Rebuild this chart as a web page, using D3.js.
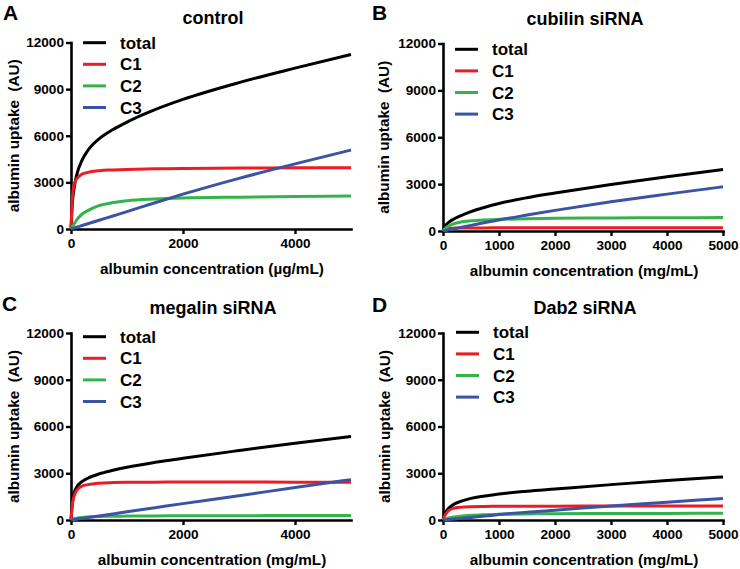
<!DOCTYPE html>
<html>
<head>
<meta charset="utf-8">
<script src="https://cdn.jsdelivr.net/npm/d3@7"></script>
<style>
  html, body { margin: 0; padding: 0; background: #fff; }
  svg text { font-family: "Liberation Sans", Arial, Helvetica, sans-serif; font-weight: bold; fill: #000; }
</style>
</head>
<body>
<svg id="chart" width="740" height="569"></svg>
<script>
// ---------------- DATA ----------------
const concentration = [0, 25, 50, 100, 200, 300, 500, 750, 1000, 1500, 2000, 3000, 4000, 5000];

const seriesNames = ["total", "C1", "C2", "C3"];
const panelTitles = ["control", "cubilin siRNA", "megalin siRNA", "Dab2 siRNA"];
const panelLetters = ["A", "B", "C", "D"];
const xAxisTitles = ["albumin concentration (\u00b5g/mL)", "albumin concentration (mg/mL)",
                     "albumin concentration (mg/mL)", "albumin concentration (mg/mL)"];
const yAxisTitle = "albumin uptake  (AU)";
const yTicks = [0, 3000, 6000, 9000, 12000];
const xTicksWide = [0, 2000, 4000];
const xTicksFine = [0, 1000, 2000, 3000, 4000, 5000];

// control
const controlTotal = [0, 1700, 2500, 3450, 4450, 5050, 5800, 6400, 6880, 7680, 8340, 9420, 10350, 11230];
const controlC1    = [0, 2000, 2790, 3215, 3536, 3643, 3750, 3800, 3836, 3870, 3900, 3920, 3935, 3943];
const controlC2    = [0, 150, 290, 580, 965, 1180, 1500, 1700, 1820, 1930, 1993, 2050, 2090, 2121];
const controlC3    = [0, 28, 56, 112, 224, 336, 560, 840, 1120, 1690, 2240, 3260, 4190, 5080];
// cubilin siRNA
const cubilinTotal = [0, 250, 380, 550, 780, 950, 1240, 1520, 1760, 2130, 2430, 2980, 3470, 3930];
const cubilinC1    = [0, 90, 130, 165, 185, 192, 198, 200, 202, 205, 207, 210, 213, 215];
const cubilinC2    = [0, 120, 200, 320, 470, 560, 650, 710, 745, 790, 815, 835, 848, 857];
const cubilinC3    = [0, 18, 36, 72, 144, 216, 360, 540, 710, 1020, 1320, 1870, 2360, 2830];
// megalin siRNA
const megalinTotal = [0, 1150, 1670, 2100, 2480, 2680, 2957, 3190, 3386, 3700, 3964, 4457, 4930, 5357];
const megalinC1    = [0, 1000, 1460, 1890, 2180, 2270, 2360, 2400, 2420, 2430, 2440, 2440, 2430, 2420];
const megalinC2    = [0, 50, 80, 120, 165, 190, 220, 238, 250, 262, 270, 278, 285, 290];
const megalinC3    = [0, 13, 26, 52, 104, 156, 260, 390, 530, 790, 1050, 1560, 2080, 2590];
// Dab2 siRNA
const dab2Total    = [0, 350, 520, 750, 1020, 1180, 1390, 1540, 1670, 1850, 1990, 2270, 2530, 2765];
const dab2C1       = [0, 230, 385, 600, 760, 810, 857, 872, 880, 886, 890, 894, 897, 900];
const dab2C2       = [0, 40, 75, 130, 190, 235, 300, 340, 365, 390, 407, 418, 425, 430];
const dab2C3       = [0, 8, 15, 30, 60, 90, 160, 250, 350, 500, 630, 900, 1140, 1380];

const panelSeries = [
  [controlTotal, controlC1, controlC2, controlC3],
  [cubilinTotal, cubilinC1, cubilinC2, cubilinC3],
  [megalinTotal, megalinC1, megalinC2, megalinC3],
  [dab2Total, dab2C1, dab2C2, dab2C3]
];

// ---------------- LAYOUT / STYLE ----------------
const colors = ["#000000", "#ec1c24", "#33b44a", "#3a53a4"];
const layout = [
  { x0: 71,  x1: 351, yTop: 42.5, yBot: 229, xticks: xTicksWide, leg: { x: 83,  y: 42.7 }, letter: { x: 3,   y: 20 },  yTitleX: 14 },
  { x0: 443, x1: 723, yTop: 43.5, yBot: 231, xticks: xTicksFine, leg: { x: 455, y: 49.3 }, letter: { x: 372, y: 20 },  yTitleX: 384 },
  { x0: 71,  x1: 351, yTop: 333,  yBot: 520, xticks: xTicksWide, leg: { x: 83,  y: 336.7 }, letter: { x: 2,  y: 311 }, yTitleX: 14 },
  { x0: 443, x1: 723, yTop: 333,  yBot: 520, xticks: xTicksFine, leg: { x: 456, y: 332.3 }, letter: { x: 372, y: 312 }, yTitleX: 385 }
];

const svg = d3.select("#chart");

layout.forEach((L, i) => {
  const g = svg.append("g");
  const x = d3.scaleLinear().domain([0, 5000]).range([L.x0, L.x1]);
  const y = d3.scaleLinear().domain([0, 12000]).range([L.yBot, L.yTop]);

  // axes
  const yAxis = g.append("g").attr("transform", `translate(${L.x0},0)`)
    .call(d3.axisLeft(y).tickValues(yTicks).tickFormat(d3.format("d")).tickSize(5).tickSizeOuter(0).tickPadding(2));
  const xAxis = g.append("g").attr("transform", `translate(0,${L.yBot})`)
    .call(d3.axisBottom(x).tickValues(L.xticks).tickFormat(d3.format("d")).tickSize(5).tickSizeOuter(0).tickPadding(4));
  [yAxis, xAxis].forEach(a => {
    a.select(".domain").attr("stroke", "#000").attr("stroke-width", 2.6).attr("stroke-linecap", "square");
    a.selectAll(".tick line").attr("stroke", "#000").attr("stroke-width", 2.4);
    a.selectAll(".tick text").style("font-size", "13.6px").style("font-family", "'Liberation Sans', Arial, sans-serif").style("font-weight", "bold").attr("fill", "#000");
  });

  // lines
  const line = d3.line().x((d, k) => x(concentration[k])).y(d => y(d)).curve(d3.curveMonotoneX);
  panelSeries[i].forEach((vals, s) => {
    g.append("path").datum(vals).attr("d", line)
      .attr("fill", "none").attr("stroke", colors[s]).attr("stroke-width", 3)
      .attr("stroke-linejoin", "round").attr("stroke-linecap", "butt");
  });

  // title
  g.append("text").attr("x", (L.x0 + L.x1) / 2 + 2).attr("y", L.yTop - 19)
    .attr("text-anchor", "middle").style("font-size", "18px").text(panelTitles[i]);
  // panel letter
  g.append("text").attr("x", L.letter.x).attr("y", L.letter.y).style("font-size", "21px").text(panelLetters[i]);
  // x-axis title
  g.append("text").attr("x", (L.x0 + L.x1) / 2 + 1).attr("y", L.yBot + 45)
    .attr("text-anchor", "middle").style("font-size", "15.3px").text(xAxisTitles[i]);
  // y-axis title
  g.append("text").attr("transform", `translate(${L.yTitleX + 5},${(L.yTop + L.yBot) / 2}) rotate(-90)`)
    .attr("text-anchor", "middle").style("font-size", "15.3px").style("white-space", "pre").text(yAxisTitle);

  // legend
  seriesNames.forEach((name, s) => {
    const ly = L.leg.y + s * 21.6;
    g.append("line").attr("x1", L.leg.x).attr("x2", L.leg.x + 23).attr("y1", ly).attr("y2", ly)
      .attr("stroke", colors[s]).attr("stroke-width", 3);
    g.append("text").attr("x", L.leg.x + 37).attr("y", ly + 6).style("font-size", "17px").text(name);
  });
});
</script>
</body>
</html>
